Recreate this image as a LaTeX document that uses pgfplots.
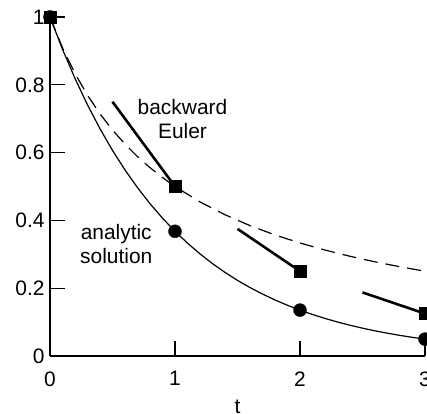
\documentclass[border=0pt]{standalone}
\usepackage{fontspec}
\setmainfont{Liberation Sans}
\usepackage{pgfplots}
\pgfplotsset{compat=1.18}
\begin{document}
\begin{tikzpicture}
\path[use as bounding box] (-50bp,-58bp) rectangle (377bp,356bp);
\begin{axis}[
  at={(0,0)}, anchor=south west,
  scale only axis, width=375bp, height=339bp,
  xmin=0, xmax=3, ymin=0, ymax=1,
  axis lines=left, axis line style={-, line width=1.6pt},
  xtick={0,1,2,3}, ytick={0,0.2,0.4,0.6,0.8,1},
  tick align=inside, major tick length=15bp,
  tick style={line width=1.2pt, black},
  /pgf/number format/assume math mode=true,
  tick label style={font=\fontsize{21}{24}\selectfont},
  xticklabel style={yshift=-12bp},
  yticklabel style={xshift=-2bp},
  xlabel={t}, xlabel style={font=\fontsize{21}{24}\selectfont, yshift=-7bp},
  clip=false,
]
\addplot[black, line width=1.2pt] coordinates {
(0,1) (0.1,0.9048) (0.2,0.8187) (0.3,0.7408) (0.4,0.6703) (0.5,0.6065)
(0.6,0.5488) (0.7,0.4966) (0.8,0.4493) (0.9,0.4066) (1.0,0.3679)
(1.1,0.3329) (1.2,0.3012) (1.3,0.2725) (1.4,0.2466) (1.5,0.2231)
(1.6,0.2019) (1.7,0.1827) (1.8,0.1653) (1.9,0.1496) (2.0,0.1353)
(2.1,0.1225) (2.2,0.1108) (2.3,0.1003) (2.4,0.0907) (2.5,0.0821)
(2.6,0.0743) (2.7,0.0672) (2.8,0.0608) (2.9,0.0550) (3.0,0.0498)};
\addplot[black, line width=1.2pt, dash pattern=on 14bp off 8bp] coordinates {
(0,1) (0.1,0.9091) (0.2,0.8333) (0.3,0.7692) (0.4,0.7143) (0.5,0.6667)
(0.6,0.625) (0.7,0.5882) (0.8,0.5556) (0.9,0.5263) (1.0,0.5)
(1.2,0.4545) (1.4,0.4167) (1.6,0.3846) (1.8,0.3571) (2.0,0.3333)
(2.2,0.3125) (2.4,0.2941) (2.6,0.2778) (2.8,0.2632) (3.0,0.25)};
\addplot[only marks, mark=*, mark size=6.5bp, black] coordinates {
(0,1) (1,0.3679) (2,0.1353) (3,0.0498)};
\addplot[black, line width=2.6pt] coordinates {(0.5,0.75) (1,0.5)};
\addplot[black, line width=2.6pt] coordinates {(1.5,0.375) (2,0.25)};
\addplot[black, line width=2.6pt] coordinates {(2.5,0.1875) (3,0.125)};
\addplot[only marks, mark=square*, mark size=6bp, black] coordinates {
(0,1) (1,0.5) (2,0.25) (3,0.125)};
\node[align=center, font=\fontsize{21}{24}\selectfont] at (axis cs:1.06,0.70) {backward\\Euler};
\node[align=center, font=\fontsize{21}{24}\selectfont] at (axis cs:0.53,0.33) {analytic\\solution};
\end{axis}
\end{tikzpicture}
\end{document}
